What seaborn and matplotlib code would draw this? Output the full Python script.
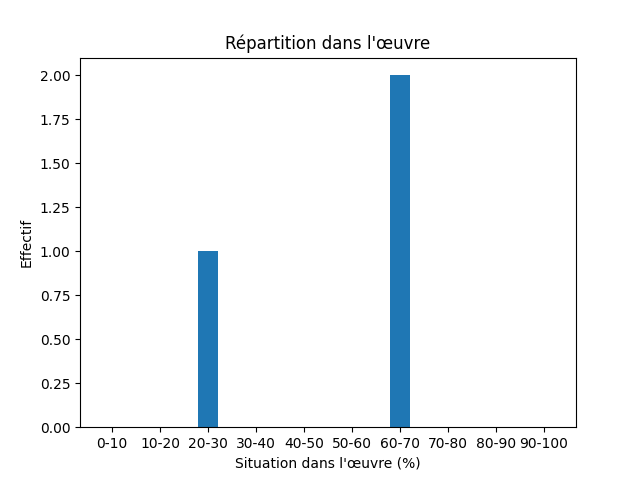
import pandas as pd
import matplotlib
matplotlib.use('Agg')
import matplotlib.pyplot as plt
import seaborn as sns

# tranches de situation dans l'oeuvre
tranches = ['0-10', '10-20', '20-30', '30-40', '40-50',
            '50-60', '60-70', '70-80', '80-90', '90-100']
effectifs = [0, 0, 1, 0, 0, 0, 2, 0, 0, 0]

df = pd.DataFrame({'tranche': tranches, 'effectif': effectifs})

fig, ax = plt.subplots(figsize=(6.4, 4.8), dpi=100)
largeur = 0.4
sns.barplot(data=df, x='tranche', y='effectif', color='#1f77b4',
            saturation=1, width=largeur, errorbar=None, linewidth=0, ax=ax)

# marges comme matplotlib par defaut
pad = 0.05 * (len(tranches) - 1 + largeur)
ax.set_xlim(-largeur / 2 - pad, len(tranches) - 1 + largeur / 2 + pad)
ax.set_ylim(0, 2.1)

ax.set_title("Répartition dans l'œuvre")
ax.set_xlabel("Situation dans l'œuvre (%)")
ax.set_ylabel('Effectif')

fig.savefig('out.png')
